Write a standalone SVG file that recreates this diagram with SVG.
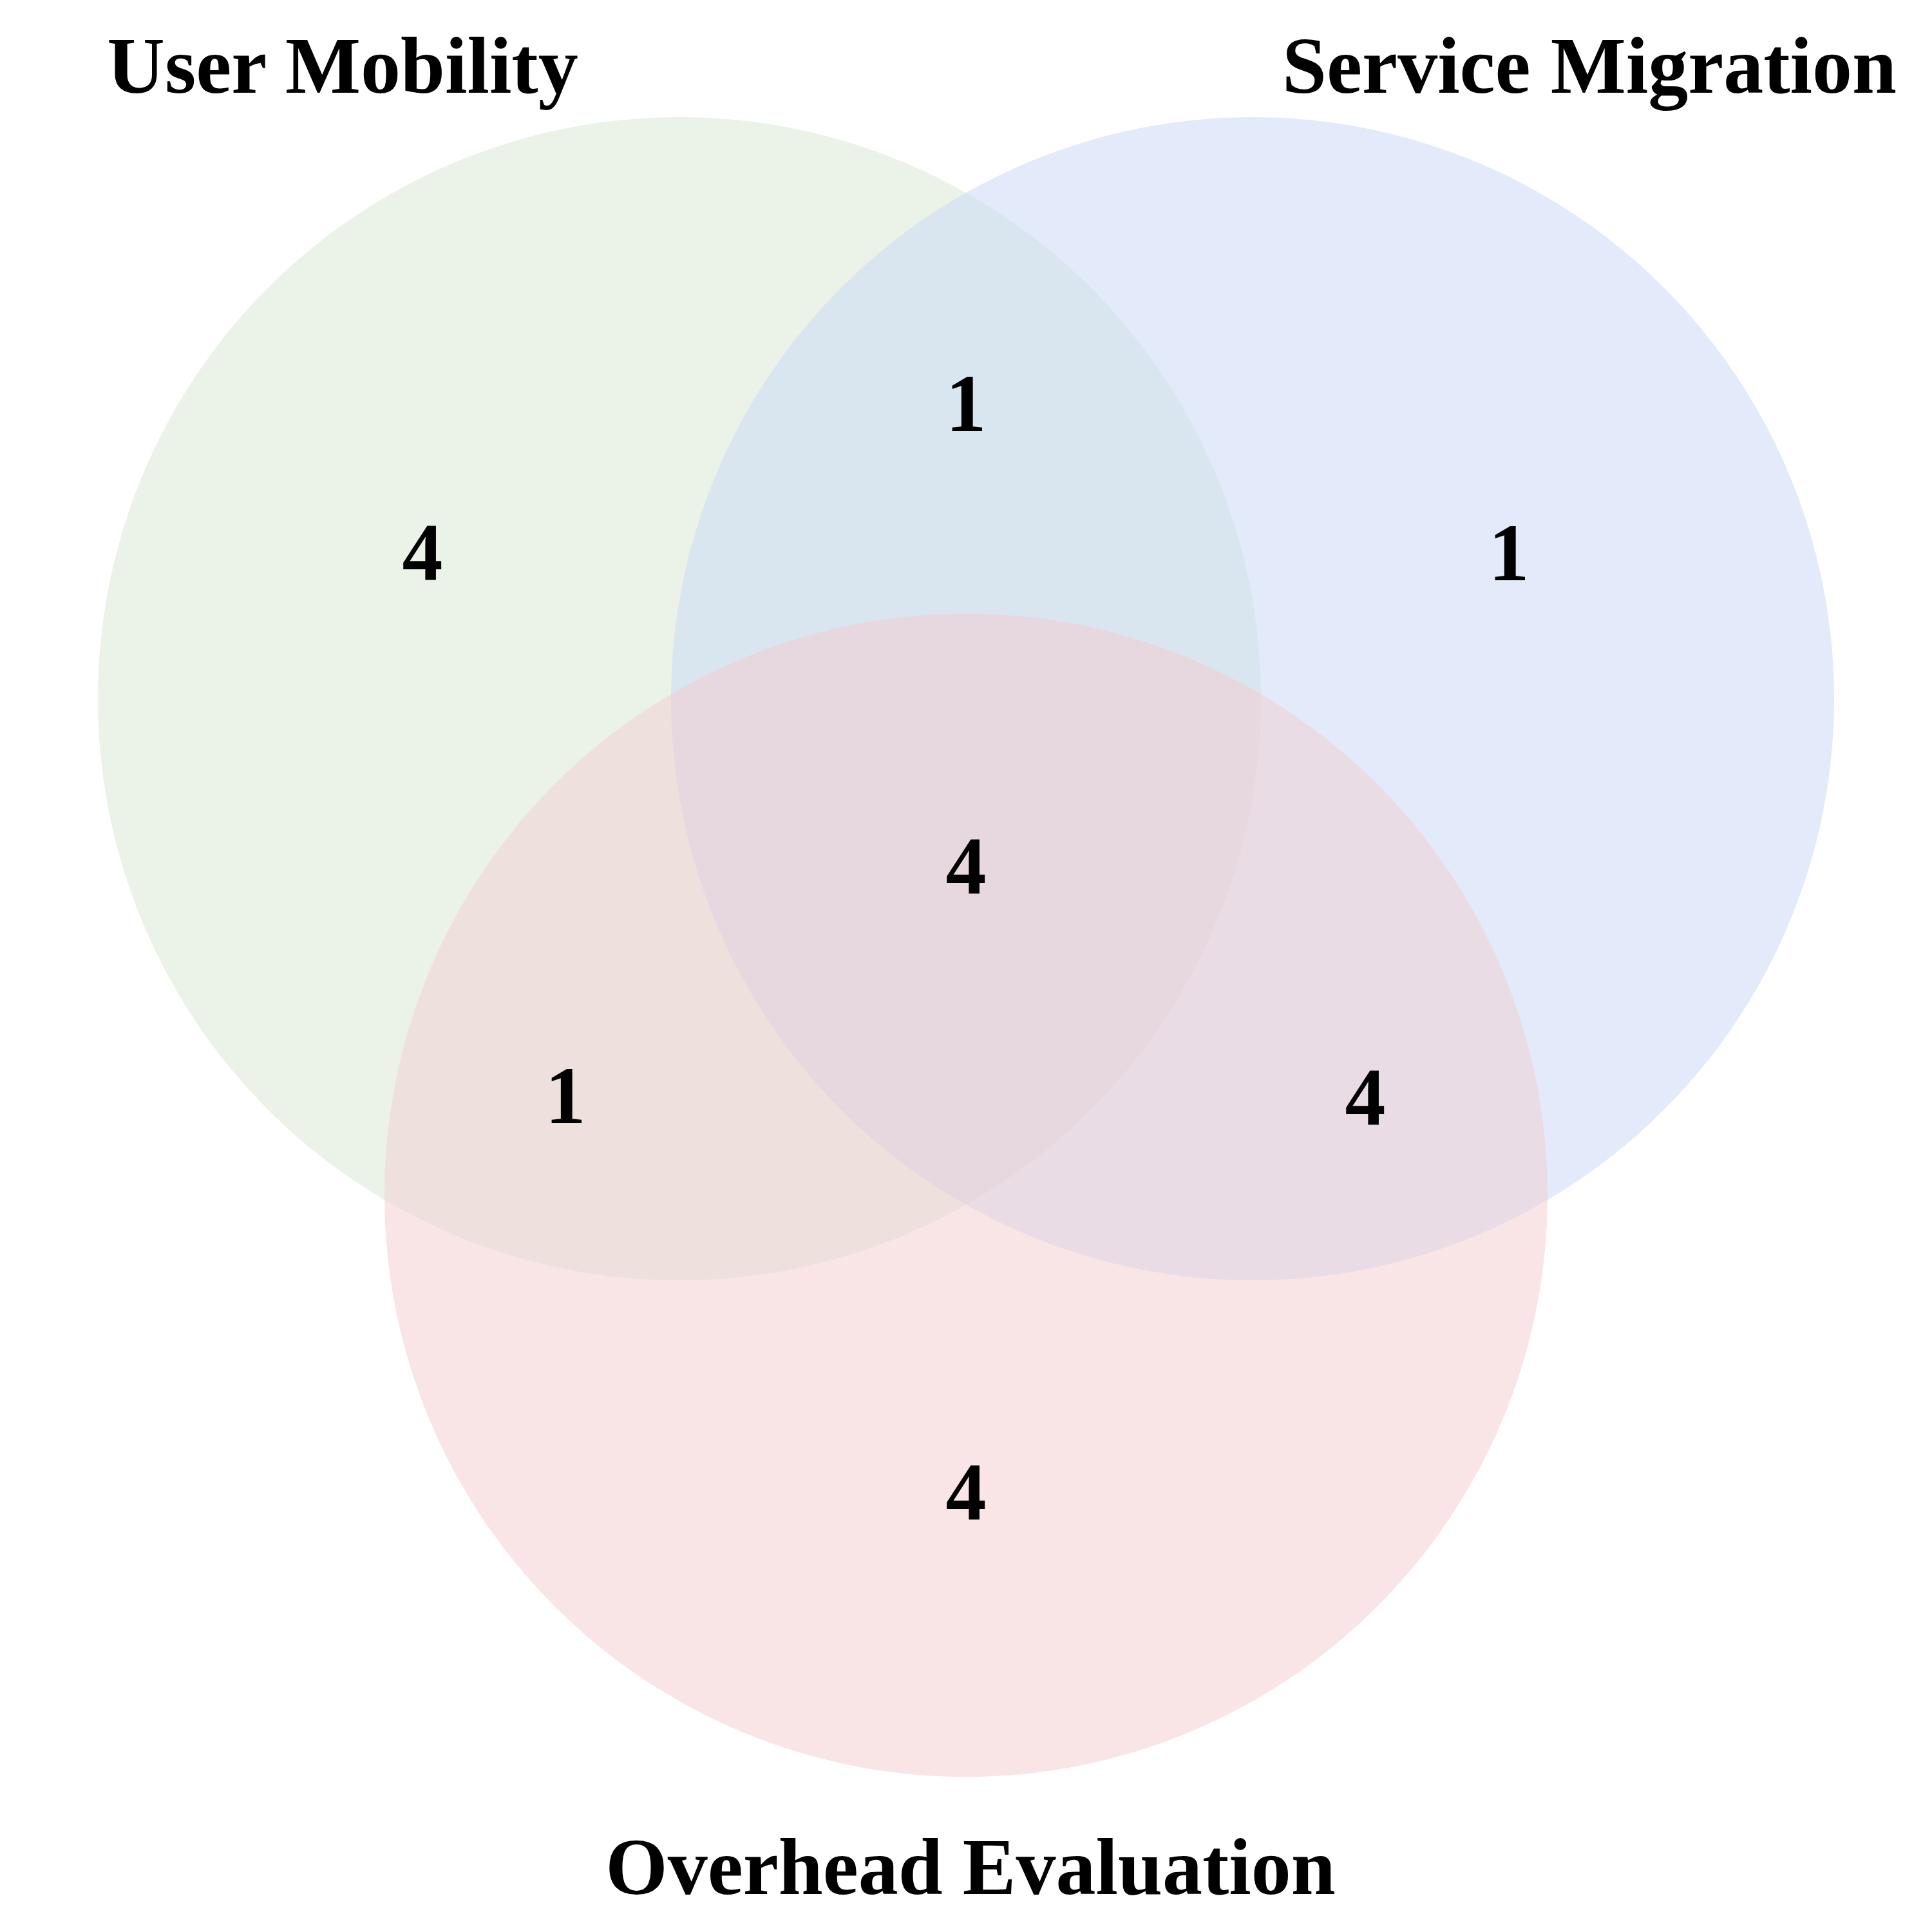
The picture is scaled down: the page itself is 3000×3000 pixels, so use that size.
<svg xmlns="http://www.w3.org/2000/svg" width="3000" height="3000" viewBox="0 0 3000 3000">
  <style>
    .lbl { font-family: "Liberation Serif", "Times New Roman", serif; font-weight: bold; font-size: 124px; fill: #000000; text-anchor: middle; }
    .num { font-family: "Liberation Serif", "Times New Roman", serif; font-weight: bold; font-size: 126px; fill: #000000; text-anchor: middle; }
  </style>
  <defs>
    <clipPath id="clipG"><circle cx="1055" cy="1085" r="903"/></clipPath>
    <clipPath id="clipB"><circle cx="1945" cy="1085" r="903"/></clipPath>
  </defs>
  <rect x="0" y="0" width="3000" height="3000" fill="#ffffff"/>
  <g id="set-user-mobility">
    <circle cx="1055" cy="1085" r="903" fill="#ebf2e8"/>
  </g>
  <g id="set-service-migration">
    <circle cx="1945" cy="1085" r="903" fill="#e3eaf9"/>
  </g>
  <g id="set-overhead-evaluation">
    <circle cx="1500" cy="1856" r="903" fill="#f9e4e6"/>
  </g>
  <g id="overlaps">
    <circle id="um-sm" cx="1945" cy="1085" r="903" fill="#d9e6f0" clip-path="url(#clipG)"/>
    <circle id="um-oe" cx="1500" cy="1856" r="903" fill="#eee0dd" clip-path="url(#clipG)"/>
    <circle id="sm-oe" cx="1500" cy="1856" r="903" fill="#eadce4" clip-path="url(#clipB)"/>
    <g id="all-three" clip-path="url(#clipG)">
      <circle cx="1500" cy="1856" r="903" fill="#e6d8de" clip-path="url(#clipB)"/>
    </g>
  </g>
  <g id="set-labels">
    <text class="lbl" x="532" y="144">User Mobility</text>
    <text class="lbl" x="2468" y="144">Service Migration</text>
    <text class="lbl" x="1507" y="2941">Overhead Evaluation</text>
  </g>
  <g id="counts">
    <text class="num" x="656" y="900">4</text>
    <text class="num" x="1500" y="669">1</text>
    <text class="num" x="2343" y="901">1</text>
    <text class="num" x="1500" y="1387">4</text>
    <text class="num" x="878" y="1744">1</text>
    <text class="num" x="2120" y="1746">4</text>
    <text class="num" x="1500" y="2359">4</text>
  </g>
</svg>
